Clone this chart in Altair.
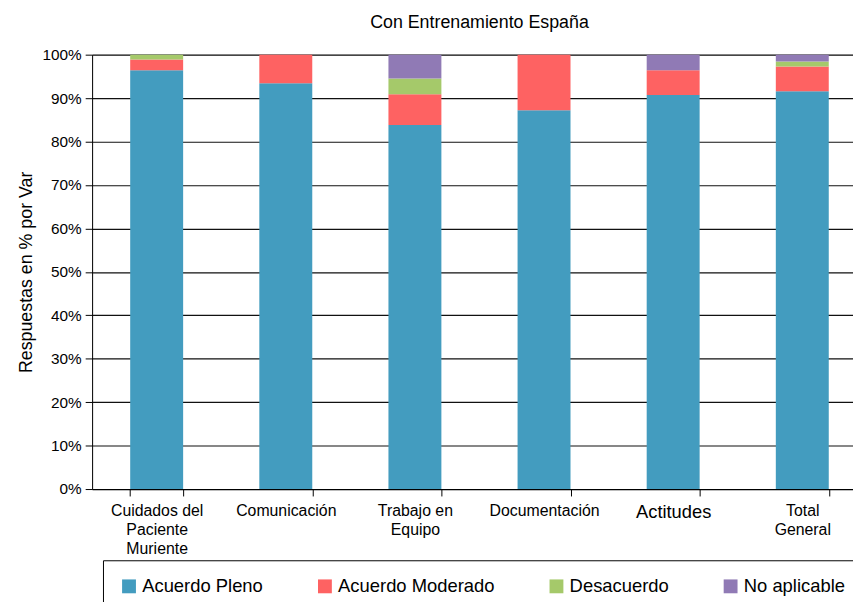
import altair as alt
import pandas as pd

categories = ["Cuidados del\nPaciente\nMuriente", "Comunicación", "Trabajo en\nEquipo",
              "Documentación", "Actitudes", "Total\nGeneral"]
series = ["Acuerdo Pleno", "Acuerdo Moderado", "Desacuerdo", "No aplicable"]
colors = ["#439CBF", "#FE6262", "#A5C96A", "#907AB5"]

acuerdo_pleno = [96.4, 93.4, 83.8, 87.2, 90.7, 91.6]
acuerdo_moderado = [2.5, 6.6, 7.1, 12.8, 5.7, 5.7]
desacuerdo = [1.1, 0.0, 3.6, 0.0, 0.0, 1.1]
no_aplicable = [0.0, 0.0, 5.5, 0.0, 3.6, 1.6]

y_ticks = [0, 0.1, 0.2, 0.3, 0.4, 0.5, 0.6, 0.7, 0.8, 0.9, 1.0]

rows = []
for s_i, (name, vals) in enumerate(zip(series, [acuerdo_pleno, acuerdo_moderado, desacuerdo, no_aplicable])):
    for c, v in zip(categories, vals):
        rows.append({"cat": c, "serie": name, "val": v / 100.0, "ord": s_i})
df = pd.DataFrame(rows)

FONT = "Liberation Sans"

chart = alt.Chart(df).mark_bar().encode(
    x=alt.X("cat:N", sort=categories,
            scale=alt.Scale(range=[0, 783], paddingInner=0.59, paddingOuter=0.295),
            axis=alt.Axis(title=None, labelAngle=0,
                          labelExpr="split(datum.label, '\\n')",
                          tickBand="extent", tickSize=7, labelPadding=7,
                          labelFontSize={"condition": {"test": "datum.value == 'Actitudes'", "value": 18.5}, "value": 16},
                          labelLineHeight=19, labelColor="black", tickColor="black",
                          domainColor="black", labelBaseline="top", labelFont=FONT)),
    y=alt.Y("val:Q", stack="zero",
            scale=alt.Scale(domain=[0, 1], nice=False),
            axis=alt.Axis(values=y_ticks, format=".0%", title="Respuestas en % por Var",
                          titleFontSize=18, titleFontWeight="normal", titleFont=FONT,
                          titleColor="black", titlePadding=7,
                          grid=True, gridColor="#111111", gridWidth=1.2,
                          labelFontSize=15.5, labelColor="black", labelFont=FONT,
                          labelPadding=4,
                          tickSize=7, tickColor="black", domainColor="black")),
    color=alt.Color("serie:N", sort=series,
                    scale=alt.Scale(domain=series, range=colors),
                    legend=alt.Legend(orient="none", legendX=11, legendY=511,
                                      direction="horizontal", columns=4, title=None,
                                      strokeColor="black", padding=17,
                                      symbolType="square", symbolSize=196,
                                      symbolStrokeWidth=0, symbolOpacity=1,
                                      labelFontSize=18.6, labelOffset=4, labelFont=FONT,
                                      columnPadding=53, labelColor="black", labelLimit=300)),
    order=alt.Order("ord:Q"),
).properties(
    width=769, height=439,
    title=alt.TitleParams("Con Entrenamiento España", fontSize=18, fontWeight="normal",
                          font=FONT, color="black", offset=16, anchor="middle",
                          frame="group", dx=7),
    autosize=alt.AutoSizeParams(type="none"),
    padding={"left": 85, "top": 44, "right": 0, "bottom": 111},
).configure_view(stroke=None).configure(font=FONT)

chart.save("out.html", embed_options={"renderer": "svg", "actions": False})
